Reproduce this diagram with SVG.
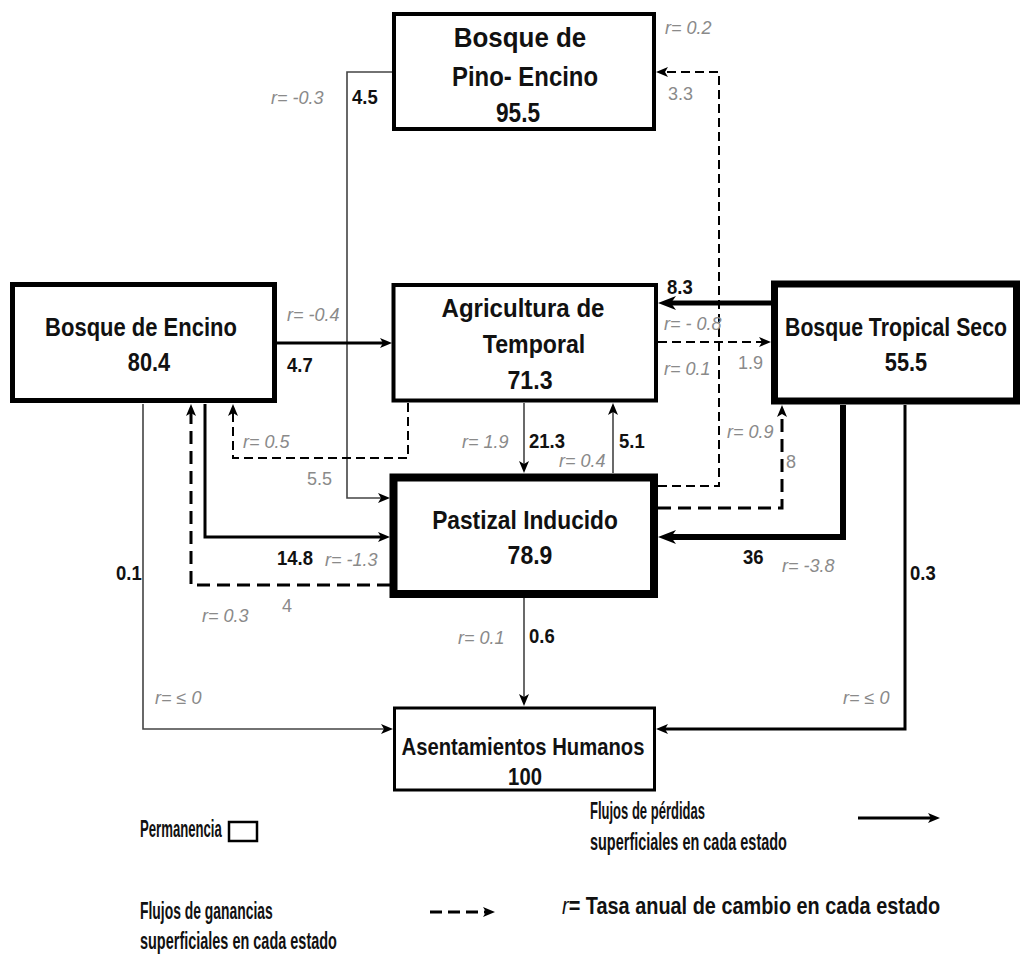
<svg xmlns="http://www.w3.org/2000/svg" width="1026" height="971" viewBox="0 0 1026 971">
<style>
.box{fill:#fff;stroke:#000}
.t{font-family:"Liberation Sans",Arial,sans-serif;font-weight:bold;fill:#111;text-anchor:middle}
.n{font-family:"Liberation Sans",Arial,sans-serif;font-weight:bold;fill:#111;font-size:21px}
.r{font-family:"Liberation Sans",Arial,sans-serif;font-style:italic;fill:#8a8a8a;font-size:18px}
.g{font-family:"Liberation Sans",Arial,sans-serif;fill:#8a8a8a;font-size:18px}
.lg{font-family:"Liberation Sans",Arial,sans-serif;font-weight:bold;fill:#111;font-size:23px}
.c{fill:none;stroke:#000}
.thin{stroke:#444;stroke-width:1.6}
.d{stroke-dasharray:9 5}
.D{stroke-dasharray:13 7}
</style>
<defs>
<marker id="a" viewBox="0 0 12 10" refX="4" refY="5" markerWidth="12" markerHeight="10" markerUnits="userSpaceOnUse" orient="auto"><path d="M0,0 L12,5 L0,10 L3,5 z" fill="#000"/></marker>
<marker id="A" viewBox="0 0 18 14" refX="6" refY="7" markerWidth="18" markerHeight="14" markerUnits="userSpaceOnUse" orient="auto"><path d="M0,0 L18,7 L0,14 L5,7 z" fill="#000"/></marker>
</defs>
<rect width="1026" height="971" fill="#fff"/>

<g id="connectors">
<!-- Pino -> Pastizal 4.5 -->
<path class="c thin" d="M392,72 H347 V498 H382" marker-end="url(#a)"/>
<!-- Pastizal -> Pino dashed 3.3 -->
<path class="c d" stroke-width="2" stroke="#333" d="M658,486 H719 V72 H664" marker-end="url(#a)"/>
<!-- Encino -> Agri 4.7 -->
<path class="c" stroke-width="3" d="M277,343 H384" marker-end="url(#a)"/>
<!-- Tropical -> Agri 8.3 -->
<path class="c" stroke-width="5" d="M771,303 H670" marker-end="url(#A)"/>
<!-- Agri -> Tropical dashed 1.9 -->
<path class="c d" stroke-width="2" d="M658,342 H763" marker-end="url(#a)"/>
<!-- Agri -> Pastizal 21.3 -->
<path class="c thin" d="M524,403 V465" marker-end="url(#a)"/>
<!-- Pastizal -> Agri 5.1 -->
<path class="c thin" d="M613,473 V411" marker-end="url(#a)"/>
<!-- Agri -> Encino dashed 5.5 -->
<path class="c d" stroke-width="2" d="M408,403 V458 H233 V412" marker-end="url(#a)"/>
<!-- Encino -> Pastizal 14.8 -->
<path class="c" stroke-width="3" d="M205,404 V537 H382" marker-end="url(#a)"/>
<!-- Pastizal -> Encino dashed 4 -->
<path class="c D" stroke-width="3" d="M390,585 H191 V412" marker-end="url(#a)"/>
<!-- Encino -> Asentamientos 0.1 -->
<path class="c thin" d="M143,404 V729 H385" marker-end="url(#a)"/>
<!-- Tropical -> Pastizal 36 -->
<path class="c" stroke-width="6" d="M843,405 V537 H670" marker-end="url(#A)"/>
<!-- Pastizal -> Tropical dashed 8 -->
<path class="c D" stroke-width="3" d="M658,508 H782 V413" marker-end="url(#a)"/>
<!-- Tropical -> Asentamientos 0.3 -->
<path class="c" stroke-width="3" d="M905,405 V729 H664" marker-end="url(#a)"/>
<!-- Pastizal -> Asentamientos 0.6 -->
<path class="c thin" d="M524,598 V698" marker-end="url(#a)"/>
</g>

<g id="pino">
<rect class="box" x="394" y="14" width="260" height="115" stroke-width="4"/>
<text class="t" font-size="27" transform="translate(520,47) scale(0.96,1)">Bosque de</text>
<text class="t" font-size="27" transform="translate(525,86) scale(0.885,1)">Pino- Encino</text>
<text class="t" font-size="27" transform="translate(518,122) scale(0.84,1)">95.5</text>
</g>

<g id="encino">
<rect class="box" x="12.5" y="284.5" width="262" height="116" stroke-width="5"/>
<text class="t" font-size="25" transform="translate(141,336) scale(0.88,1)">Bosque de Encino</text>
<text class="t" font-size="25" transform="translate(149,371) scale(0.87,1)">80.4</text>
</g>

<g id="agricultura">
<rect class="box" x="393.5" y="285" width="262.5" height="115.5" stroke-width="4"/>
<text class="t" font-size="26" transform="translate(523,317) scale(0.925,1)">Agricultura de</text>
<text class="t" font-size="26" transform="translate(534,353) scale(0.89,1)">Temporal</text>
<text class="t" font-size="26" transform="translate(530,389) scale(0.89,1)">71.3</text>
</g>

<g id="tropical">
<rect class="box" x="774.5" y="284" width="242" height="117" stroke-width="7"/>
<text class="t" font-size="25" transform="translate(896,336) scale(0.85,1)">Bosque Tropical Seco</text>
<text class="t" font-size="25" transform="translate(906,371) scale(0.87,1)">55.5</text>
</g>

<g id="pastizal">
<rect class="box" x="393.5" y="477.5" width="260.5" height="116.5" stroke-width="8"/>
<text class="t" font-size="25" transform="translate(525,529) scale(0.91,1)">Pastizal Inducido</text>
<text class="t" font-size="25" transform="translate(530,564) scale(0.92,1)">78.9</text>
</g>

<g id="asentamientos">
<rect class="box" x="394.5" y="708" width="260" height="82" stroke-width="3"/>
<text class="t" font-size="23" transform="translate(523,755) scale(0.88,1)">Asentamientos Humanos</text>
<text class="t" font-size="23" transform="translate(525,785) scale(0.88,1)">100</text>
</g>

<g id="labels">
<text class="n" transform="translate(352,104) scale(0.88,1)">4.5</text>
<text class="n" transform="translate(287,372) scale(0.88,1)">4.7</text>
<text class="n" transform="translate(667,294) scale(0.88,1)">8.3</text>
<text class="n" transform="translate(529,448) scale(0.88,1)">21.3</text>
<text class="n" transform="translate(619,448) scale(0.88,1)">5.1</text>
<text class="n" transform="translate(277,565) scale(0.88,1)">14.8</text>
<text class="n" transform="translate(743,564) scale(0.88,1)">36</text>
<text class="n" transform="translate(910,580) scale(0.88,1)">0.3</text>
<text class="n" transform="translate(116,580) scale(0.88,1)">0.1</text>
<text class="n" transform="translate(529,643) scale(0.88,1)">0.6</text>

<text class="r" x="665" y="34">r= 0.2</text>
<text class="g" x="668" y="100">3.3</text>
<text class="r" x="271" y="104">r= -0.3</text>
<text class="r" x="287" y="321">r= -0.4</text>
<text class="r" x="664" y="330">r= - 0.8</text>
<text class="r" x="664" y="375">r= 0.1</text>
<text class="g" x="738" y="369">1.9</text>
<text class="r" x="243" y="448">r= 0.5</text>
<text class="g" x="307" y="485">5.5</text>
<text class="r" x="462" y="448">r= 1.9</text>
<text class="r" x="559" y="467">r= 0.4</text>
<text class="r" x="727" y="438">r= 0.9</text>
<text class="g" x="786" y="468">8</text>
<text class="r" x="325" y="566">r= -1.3</text>
<text class="g" x="282" y="612" fill="#666">4</text>
<text class="r" x="202" y="622">r= 0.3</text>
<text class="r" x="782" y="572">r= -3.8</text>
<text class="r" x="458" y="644">r= 0.1</text>
<text class="r" x="155" y="704">r= ≤ 0</text>
<text class="r" x="843" y="704">r= ≤ 0</text>
</g>

<g id="legend">
<text class="lg" transform="translate(140,837) scale(0.572,1)">Permanencia</text>
<rect x="229" y="822" width="28" height="19" fill="#fff" stroke="#000" stroke-width="2.5"/>
<text class="lg" transform="translate(590,819) scale(0.566,1)">Flujos de pérdidas</text>
<text class="lg" transform="translate(590,850) scale(0.629,1)">superficiales en cada estado</text>
<path class="c" stroke-width="3" d="M858,818 H932" marker-end="url(#a)"/>
<text class="lg" transform="translate(140,919) scale(0.604,1)">Flujos de ganancias</text>
<text class="lg" transform="translate(140,949) scale(0.629,1)">superficiales en cada estado</text>
<path class="c" stroke-width="3" stroke-dasharray="12 6" d="M430,912 H487" marker-end="url(#a)"/>
<text class="lg" transform="translate(562,914) scale(0.865,1)"><tspan font-style="italic" font-weight="normal">r</tspan>= Tasa anual de cambio en cada estado</text>
</g>
</svg>
